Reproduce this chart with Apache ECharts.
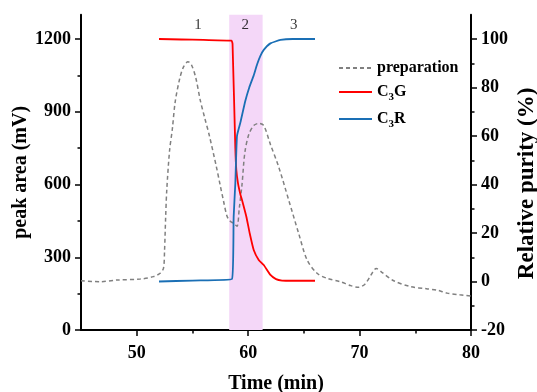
<!DOCTYPE html>
<html>
<head>
<meta charset="utf-8">
<script src="https://cdn.jsdelivr.net/npm/echarts@6/dist/echarts.min.js"></script>
<style>html,body{margin:0;padding:0;background:#fff}#c{width:537px;height:392px}</style>
</head>
<body>
<div id="c"></div>
<script>
// Preparation chromatogram (peak area, mV)
var prepTime = [45, 46.7, 48.2, 50.3, 51.5, 52.1, 52.4, 52.5, 52.6, 52.7, 52.95, 53.2, 53.45, 53.85, 54.2, 54.6, 54.9, 55.3, 55.7, 56.1, 56.5, 57.15, 57.5, 57.8, 58.1, 58.4, 58.7, 59.0, 59.2, 59.45, 59.7, 60.05, 60.5, 60.95, 61.4, 62.0, 62.74, 63.64, 64.53, 65.29, 66.18, 67.08, 68.28, 69.2, 69.92, 70.5, 71.0, 71.5, 72.0, 73.06, 74.56, 76.0, 77.0, 77.85, 79.0, 80];
var prepArea = [203, 199, 206, 210, 220, 234, 254, 330, 470, 580, 740, 830, 940, 1035, 1085, 1106, 1095, 1040, 948, 875, 805, 673, 595, 530, 470, 448, 440, 428, 500, 600, 730, 805, 843, 852, 843, 765, 673, 536, 399, 289, 234, 213, 199, 183, 176, 190, 225, 254, 238, 203, 179, 170, 164, 152, 145, 140];
// C3G relative purity (%)
var c3gTime = [52, 54, 56, 58.5, 58.6, 58.85, 58.94, 59.09, 59.3, 59.45, 59.84, 60.14, 60.5, 60.95, 61.4, 62.0, 62.5, 63.04, 64, 66];
var c3gPurity = [100, 99.8, 99.6, 99.3, 98, 55, 46, 40.5, 36, 33.6, 26.7, 19.9, 13, 8.9, 6.8, 2.7, 1.0, 0.4, 0.3, 0.3];
// C3R relative purity (%)
var c3rTime = [52, 55, 58.55, 58.7, 58.85, 59.0, 59.3, 59.75, 60.1, 60.5, 60.8, 61.1, 61.4, 62.0, 62.9, 64, 66];
var c3rPurity = [0, 0.4, 1.0, 26.7, 40.5, 60, 65.5, 74.5, 80, 85, 89.5, 93, 95.5, 98.2, 99.6, 100, 100];
// Fraction band and region labels
var bandStart = [58.3];
var bandEnd = [61.3];
var regionX = [55.5, 59.75, 64.1];
var regionText = ['1', '2', '3'];
// Tick labels
var xTicks = [50, 60, 70, 80];
var xMinor = [55, 65, 75];
var yLeftTicks = [0, 300, 600, 900, 1200];
var yLeftMinor = [150, 450, 750, 1050];
var yRightTicks = [-20, 0, 20, 40, 60, 80, 100];
var yRightMinor = [-10, 10, 30, 50, 70, 90];

var FF = 'Liberation Serif, Times New Roman, serif';
function zip(a, b) { return a.map(function (v, i) { return [v, b[i]]; }); }
function plain(v) { return String(v); }

var axLine = { show: true, onZero: false, lineStyle: { color: '#000', width: 2 } };
var lbl = { color: '#000', fontFamily: FF, fontWeight: 'bold', fontSize: 18, formatter: plain };
var nameTS = { color: '#000', fontFamily: FF, fontWeight: 'bold', fontSize: 20 };
var tickLS = { width: 1.5, color: '#000' };

var chart = echarts.init(document.getElementById('c'), null, { renderer: 'canvas' });
chart.setOption({
  animation: false,
  backgroundColor: '#fff',
  grid: { left: 81, right: 66, top: 14.75, bottom: 62, containLabel: false, outerBoundsMode: 'none' },
  xAxis: [{
    type: 'value', min: 45, max: 80, interval: 5,
    axisLine: axLine, splitLine: { show: false },
    axisTick: { show: true, length: 6, lineStyle: tickLS, customValues: xTicks },
    axisLabel: Object.assign({ margin: 14, customValues: xTicks }, lbl),
    name: 'Time (min)', nameLocation: 'middle', nameGap: 44, nameMoveOverlap: false, nameTextStyle: nameTS
  }, {
    type: 'value', min: 45, max: 80, interval: 5, position: 'bottom',
    axisLine: { show: false, onZero: false }, splitLine: { show: false },
    axisTick: { show: true, length: 3.5, lineStyle: tickLS, customValues: xMinor },
    axisLabel: { show: false }
  }],
  yAxis: [{
    type: 'value', min: 0, max: 1300, interval: 300, position: 'left',
    axisLine: axLine, splitLine: { show: false },
    axisTick: { show: true, length: 6, lineStyle: tickLS, customValues: yLeftTicks },
    axisLabel: Object.assign({ margin: 10, customValues: yLeftTicks }, lbl),
    name: 'peak area (mV)', nameLocation: 'middle', nameGap: 50, nameRotate: 90, nameMoveOverlap: false, nameTextStyle: nameTS
  }, {
    type: 'value', min: -20, max: 110, interval: 20, position: 'right',
    axisLine: axLine, splitLine: { show: false },
    axisTick: { show: true, length: 6, lineStyle: tickLS, customValues: yRightTicks },
    axisLabel: Object.assign({ margin: 10, customValues: yRightTicks }, lbl),
    name: 'Relative purity (%)', nameLocation: 'middle', nameGap: 45, nameRotate: 90, nameMoveOverlap: false,
    nameTextStyle: Object.assign({}, nameTS, { fontSize: 23, padding: [0, 22, 0, 0] })
  }, {
    type: 'value', min: 0, max: 1300, position: 'left',
    axisLine: { show: false, onZero: false }, splitLine: { show: false },
    axisTick: { show: true, length: 3.5, lineStyle: tickLS, customValues: yLeftMinor },
    axisLabel: { show: false }
  }, {
    type: 'value', min: -20, max: 110, position: 'right',
    axisLine: { show: false, onZero: false }, splitLine: { show: false },
    axisTick: { show: true, length: 3.5, lineStyle: tickLS, customValues: yRightMinor },
    axisLabel: { show: false }
  }],
  legend: {
    orient: 'vertical', left: 333, top: 55, itemWidth: 33, itemHeight: 14, itemGap: 8, padding: 5,
    itemStyle: { color: 'rgba(0,0,0,0)', borderWidth: 0 },
    data: ['preparation', 'C3G', 'C3R'],
    formatter: function (n) {
      if (n === 'preparation') return '{p|preparation}';
      return '{b|' + n.charAt(0) + '}{s|' + n.charAt(1) + '}{b|' + n.charAt(2) + '}';
    },
    textStyle: {
      color: '#000', fontFamily: FF, fontWeight: 'bold', fontSize: 16,
      rich: {
        p: { color: '#000', fontFamily: FF, fontWeight: 'bold', fontSize: 16, lineHeight: 19 },
        b: { color: '#000', fontFamily: FF, fontWeight: 'bold', fontSize: 16, lineHeight: 16 },
        s: { color: '#000', fontFamily: FF, fontWeight: 'bold', fontSize: 11, lineHeight: 11, verticalAlign: 'top', padding: [8, 0, 0, 0] }
      }
    }
  },
  series: [{
    name: 'band', type: 'line', data: [], silent: true,
    markArea: { silent: true, itemStyle: { color: '#f4d7f8' }, data: [[{ xAxis: bandStart[0] }, { xAxis: bandEnd[0] }]] }
  }, {
    name: 'preparation', type: 'line', xAxisIndex: 0, yAxisIndex: 0, showSymbol: false, symbol: 'none', smooth: 0.3,
    data: zip(prepTime, prepArea),
    lineStyle: { color: '#808080', width: 1.5, type: [4, 3] }, itemStyle: { color: '#808080' }
  }, {
    name: 'C3G', type: 'line', xAxisIndex: 0, yAxisIndex: 1, showSymbol: false, symbol: 'none', smooth: 0.15,
    data: zip(c3gTime, c3gPurity),
    lineStyle: { color: '#ff0000', width: 1.8 }, itemStyle: { color: '#ff0000' }
  }, {
    name: 'C3R', type: 'line', xAxisIndex: 0, yAxisIndex: 1, showSymbol: false, symbol: 'none', smooth: 0.15,
    data: zip(c3rTime, c3rPurity),
    lineStyle: { color: '#1a6fb5', width: 1.8 }, itemStyle: { color: '#1a6fb5' }
  }, {
    name: 'regions', type: 'scatter', xAxisIndex: 0, yAxisIndex: 1, symbolSize: 0, silent: true,
    data: regionX.map(function (x, i) { return { value: [x, 105.8], name: regionText[i] }; }),
    label: { show: true, position: 'inside', formatter: '{b}', color: '#000', fontFamily: FF, fontSize: 15 }
  }]
});
</script>
</body>
</html>
